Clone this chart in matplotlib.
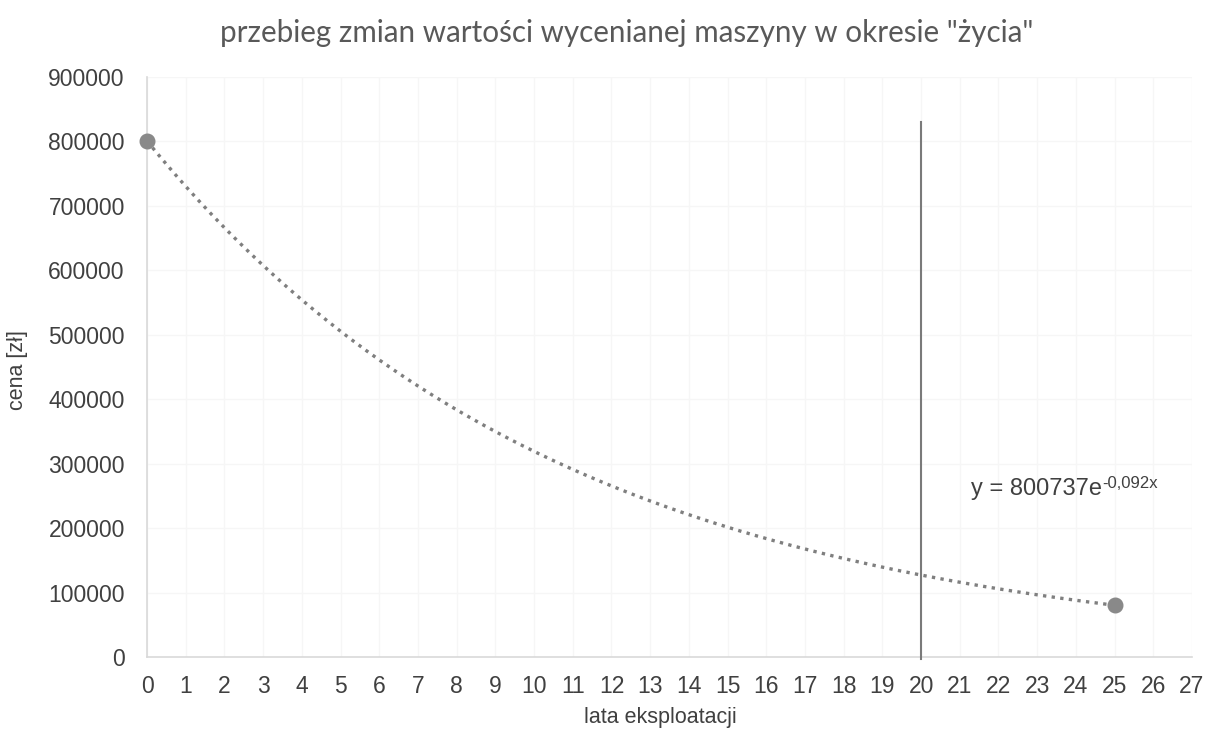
import numpy as np
import matplotlib
matplotlib.use("Agg")
import matplotlib.pyplot as plt

# data
years = [0, 25]
prices = [800000, 80000]
trend_a = 800737
trend_b = -0.092
marker_year = 20
marker_top = 830000
x_ticks = list(range(0, 28))
y_ticks = list(range(0, 900001, 100000))

W, H = 1209, 734
fig = plt.figure(figsize=(W/100, H/100), dpi=100)
ax = fig.add_axes([147/W, 1-657/H, (1192-147)/W, (657-77)/H])

ax.set_xlim(0, 27)
ax.set_ylim(0, 900000)
ax.set_xticks(x_ticks)
ax.set_yticks(y_ticks)
ax.set_xticklabels([str(t) for t in x_ticks])
ax.set_yticklabels([str(t) for t in y_ticks])
ax.grid(True, color="#f6f6f6", linewidth=1)
ax.set_axisbelow(True)
for s in ["top", "right"]:
    ax.spines[s].set_visible(False)
for s in ["left", "bottom"]:
    ax.spines[s].set_color("#d9d9d9")
    ax.spines[s].set_linewidth(1.2)
ax.tick_params(length=0, labelsize=16.5, labelcolor="#404040",
               labelfontfamily="Liberation Sans")
ax.tick_params(axis="x", pad=13)
ax.tick_params(axis="y", pad=16)

# trendline
xt = np.linspace(years[0], years[-1], 300)
ax.plot(xt, trend_a * np.exp(trend_b * xt), linestyle=(0, (1, 1.6)),
        color="#7f7f7f", linewidth=2.4, zorder=3)
# points
ax.plot(years, prices, linestyle="none", marker="o", markersize=10.5,
        color="#898989", zorder=4, clip_on=False)
# vertical line
ax.plot([marker_year, marker_year], [-3000, marker_top], color="#7a7a7a",
        linewidth=1.5, zorder=3, clip_on=False)

eq = ax.text(21.3, 261000, "y = 800737e", fontsize=17, color="#404040",
             family="Liberation Sans", va="center")
ax.annotate("-0,092x", xy=(1.0, 0.72), xycoords=eq, fontsize=12,
            color="#404040", family="Liberation Sans", va="center", ha="left")

ax.set_xlabel("lata eksploatacji", fontsize=15.5, color="#404040",
              family="Liberation Sans")
ax.xaxis.set_label_coords(660/W, 718/H, transform=fig.transFigure)
ax.set_ylabel("cena [zł]", fontsize=15.5, color="#404040",
              family="Liberation Sans")
ax.yaxis.set_label_coords(18/W, 1-370/H, transform=fig.transFigure)
ax.xaxis.label.set_va("center")
ax.yaxis.label.set_va("center")
ax.xaxis.set_label_coords(660/W, 1-718/H, transform=fig.transFigure)
fig.text(627/W, 1-33/H, 'przebieg zmian wartości wycenianej maszyny w okresie "życia"',
         ha="center", va="center", fontsize=21.3, color="#595959", family="Lato")

fig.savefig("out.png", dpi=100, facecolor="white")
